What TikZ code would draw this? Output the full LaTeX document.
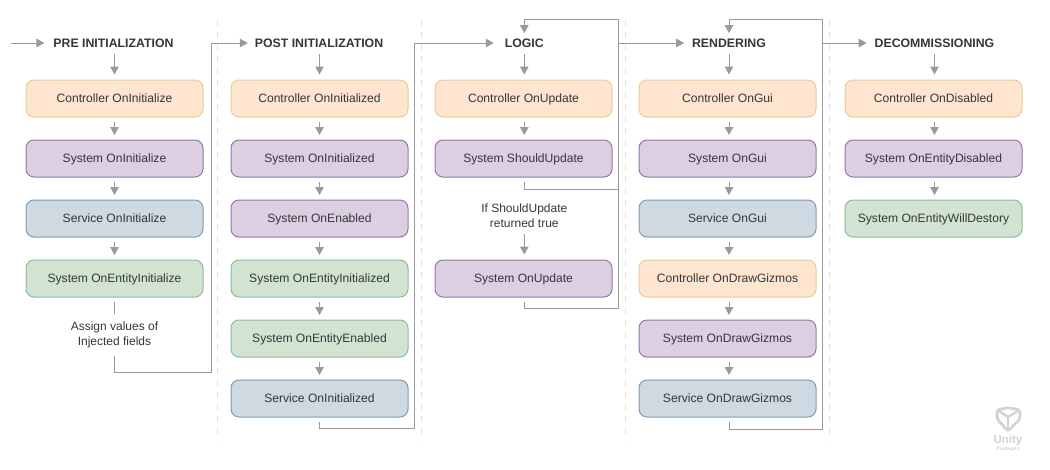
\documentclass[tikz,border=0pt]{standalone}
\usepackage{fontspec}
\setmainfont{Liberation Sans}
\usetikzlibrary{arrows.meta}
\definecolor{linec}{HTML}{9A9A9A}
\definecolor{textc}{HTML}{33363A}
\definecolor{sepc}{HTML}{E3E3E3}
\definecolor{logoc}{HTML}{D2D2D2}
\tikzset{
  x=1pt,y=-1pt,
  box/.style={rounded corners=8pt,minimum width=177pt,minimum height=37pt,inner sep=0pt,outer sep=0pt,line width=1pt,text=textc,text height=11pt,text depth=2.4pt,font=\fontsize{12.1}{14}\selectfont},
  ctrl/.style={box,draw=ctrlD,fill=ctrlF},
  sys/.style={box,draw=sysD,fill=sysF},
  serv/.style={box,draw=servD,fill=servF},
  ent/.style={box,draw=entD,fill=entF},
  head/.style={text=textc,inner sep=0pt,outer sep=0pt,text height=8.7pt,text depth=0pt,font=\fontsize{12.3}{14}\selectfont\bfseries},
  note/.style={text=textc,align=center,inner sep=0pt,outer sep=0pt,font=\fontsize{12}{15}\selectfont},
  wire/.style={draw=linec,line width=1pt},
  flow/.style={wire,-{Triangle[length=8pt,width=8.5pt,color=linec]}},
  gap/.style={flow,shorten <=5pt,shorten >=5pt},
  fromhead/.style={flow,shorten <=11pt,shorten >=5.5pt},
  sep/.style={draw=sepc,line width=1pt,dash pattern=on 6pt off 6pt},
}
\definecolor{ctrlF}{HTML}{FDE5CF}\definecolor{ctrlD}{HTML}{EBCB94}
\definecolor{sysF}{HTML}{DCCFE2}\definecolor{sysD}{HTML}{9577A6}
\definecolor{servF}{HTML}{CFD9E2}\definecolor{servD}{HTML}{7F9BB3}
\definecolor{entF}{HTML}{D2E4D1}\definecolor{entD}{HTML}{8CBA9F}
\begin{document}
\begin{tikzpicture}
\useasboundingbox (0,0) rectangle (1050,469);
% separators
\coordinate (s1a) at (217.5,20); \coordinate (s1b) at (217.5,441);
\coordinate (s2a) at (421.5,20); \coordinate (s2b) at (421.5,441);
\coordinate (s3a) at (625.5,20); \coordinate (s3b) at (625.5,441);
\coordinate (s4a) at (829.5,20); \coordinate (s4b) at (829.5,441);
\draw[sep] (s1a) -- (s1b);
\draw[sep] (s2a) -- (s2b);
\draw[sep] (s3a) -- (s3b);
\draw[sep] (s4a) -- (s4b);
% headers
\node[head] (h1) at (113.5,43) {PRE INITIALIZATION};
\node[head] (h2) at (319,43) {POST INITIALIZATION};
\node[head] (h3) at (524.3,43) {LOGIC};
\node[head] (h4) at (729,43) {RENDERING};
\node[head] (h5) at (934.5,43) {DECOMMISSIONING};
% column 1
\node[ctrl] (b11) at (114.5,98.5) {Controller OnInitialize};
\node[sys]  (b12) at (114.5,158.5) {System OnInitialize};
\node[serv] (b13) at (114.5,218.5) {Service OnInitialize};
\node[ent]  (b14) at (114.5,278.5) {System OnEntityInitialize};
\node[note] (n1) at (114.5,334.7) {Assign values of\\Injected fields};
% column 2
\node[ctrl] (b21) at (319.5,98.5) {Controller OnInitialized};
\node[sys]  (b22) at (319.5,158.5) {System OnInitialized};
\node[sys]  (b23) at (319.5,218.5) {System OnEnabled};
\node[ent]  (b24) at (319.5,278.5) {System OnEntityInitialized};
\node[ent]  (b25) at (319.5,338.5) {System OnEntityEnabled};
\node[serv] (b26) at (319.5,398.5) {Service OnInitialized};
% column 3
\node[ctrl] (b31) at (523.5,98.5) {Controller OnUpdate};
\node[sys]  (b32) at (523.5,158.5) {System ShouldUpdate};
\node[note] (n3) at (524.3,215.7) {If ShouldUpdate\\returned true};
\node[sys]  (b33) at (523.5,278.5) {System OnUpdate};
% column 4
\node[ctrl] (b41) at (727.5,98.5) {Controller OnGui};
\node[sys]  (b42) at (727.5,158.5) {System OnGui};
\node[serv] (b43) at (727.5,218.5) {Service OnGui};
\node[ctrl] (b44) at (727.5,278.5) {Controller OnDrawGizmos};
\node[sys]  (b45) at (727.5,338.5) {System OnDrawGizmos};
\node[serv] (b46) at (727.5,398.5) {Service OnDrawGizmos};
% column 5
\node[ctrl] (b51) at (933.5,98.5) {Controller OnDisabled};
\node[sys]  (b52) at (933.5,158.5) {System OnEntityDisabled};
\node[ent]  (b53) at (933.5,218.5) {System OnEntityWillDestory};
% routing points
\coordinate (start) at (11,43);
\coordinate (c1a) at (114.5,372); \coordinate (c1b) at (211,372); \coordinate (c1c) at (211,43);
\coordinate (c2a) at (319.5,428.5); \coordinate (c2b) at (414.5,428.5); \coordinate (c2c) at (414.5,43);
\coordinate (v3t) at (618.5,19); \coordinate (t3) at (524.3,19);
\coordinate (j3a) at (524.3,189); \coordinate (j3b) at (618.5,189);
\coordinate (j3c) at (524.3,308.5); \coordinate (j3d) at (618.5,308.5);
\coordinate (o3) at (618.5,43);
\coordinate (v4t) at (822.7,19); \coordinate (t4) at (729,19);
\coordinate (j4a) at (729,429); \coordinate (j4b) at (822.7,429);
\coordinate (o4) at (822.7,43);
% connectors, column 1
\draw[flow,shorten >=9pt] (start) -- (h1.west);
\draw[fromhead] (h1.center -| b11) -- (b11);
\draw[gap] (b11) -- (b12);
\draw[gap] (b12) -- (b13);
\draw[gap] (b13) -- (b14);
\draw[wire,shorten <=5pt,shorten >=8pt] (b14) -- (n1);
\draw[wire,shorten <=8pt] (n1.south -| c1a) -- (c1a) -- (c1b) -- (c1c);
\draw[flow,shorten >=7pt] (c1c) -- (h2.west);
% column 2
\draw[fromhead] (h2.center -| b21) -- (b21);
\draw[gap] (b21) -- (b22);
\draw[gap] (b22) -- (b23);
\draw[gap] (b23) -- (b24);
\draw[gap] (b24) -- (b25);
\draw[gap] (b25) -- (b26);
\draw[wire,shorten <=5pt] (b26) -- (c2a) -- (c2b) -- (c2c);
\draw[flow,shorten >=11pt] (c2c) -- (h3.west);
% column 3
\draw[fromhead] (h3.center) -- (h3.center |- b31.north);
\draw[gap] (h3.center |- b31.south) -- (h3.center |- b32.north);
\draw[wire,shorten <=5pt] (h3.center |- b32.south) -- (j3a) -- (j3b);
\draw[wire] (j3c) -- (j3d);
\draw[wire,shorten <=5pt] (h3.center |- b33.south) -- (j3c);
\draw[wire] (j3d) -- (v3t) -- (t3);
\draw[flow] (t3) -- ([yshift=5.5pt]h3.north);
\draw[flow,shorten <=6pt,shorten >=5.5pt] (n3.south -| h3.center) -- (h3.center |- b33.north);
\draw[flow,shorten >=8pt] (o3) -- (h4.west);
% column 4
\draw[fromhead] (h4.center) -- (h4.center |- b41.north);
\draw[gap] (h4.center |- b41.south) -- (h4.center |- b42.north);
\draw[gap] (h4.center |- b42.south) -- (h4.center |- b43.north);
\draw[gap] (h4.center |- b43.south) -- (h4.center |- b44.north);
\draw[gap] (h4.center |- b44.south) -- (h4.center |- b45.north);
\draw[gap] (h4.center |- b45.south) -- (h4.center |- b46.north);
\draw[wire,shorten <=5pt] (h4.center |- b46.south) -- (j4a) -- (j4b) -- (v4t) -- (t4);
\draw[flow] (t4) -- ([yshift=5.5pt]h4.north);
\draw[flow,shorten >=8pt] (o4) -- (h5.west);
% column 5
\draw[fromhead] (h5.center) -- (h5.center |- b51.north);
\draw[gap] (h5.center |- b51.south) -- (h5.center |- b52.north);
\draw[gap] (h5.center |- b52.south) -- (h5.center |- b53.north);
% logo
\draw[logoc,line width=2.8pt,line join=round,rounded corners=2pt] (997,410) -- (1008,407.5) -- (1020,410) -- (1020,419) -- (1008,431) -- (997,419) -- cycle;
\draw[logoc,line width=2.4pt] (999,411) -- (1008,417) -- (1018,411);
\draw[logoc,line width=2.4pt] (1008,417) -- (1008,429);
\node[inner sep=0pt,text=logoc,font=\fontsize{11.5}{12}\selectfont\bfseries] (logo1) at (1008,441) {Unity};
\node[inner sep=0pt,text=logoc,font=\fontsize{5}{5}\selectfont\bfseries] (logo2) at (1008,449) {Packages};
\end{tikzpicture}
\end{document}
